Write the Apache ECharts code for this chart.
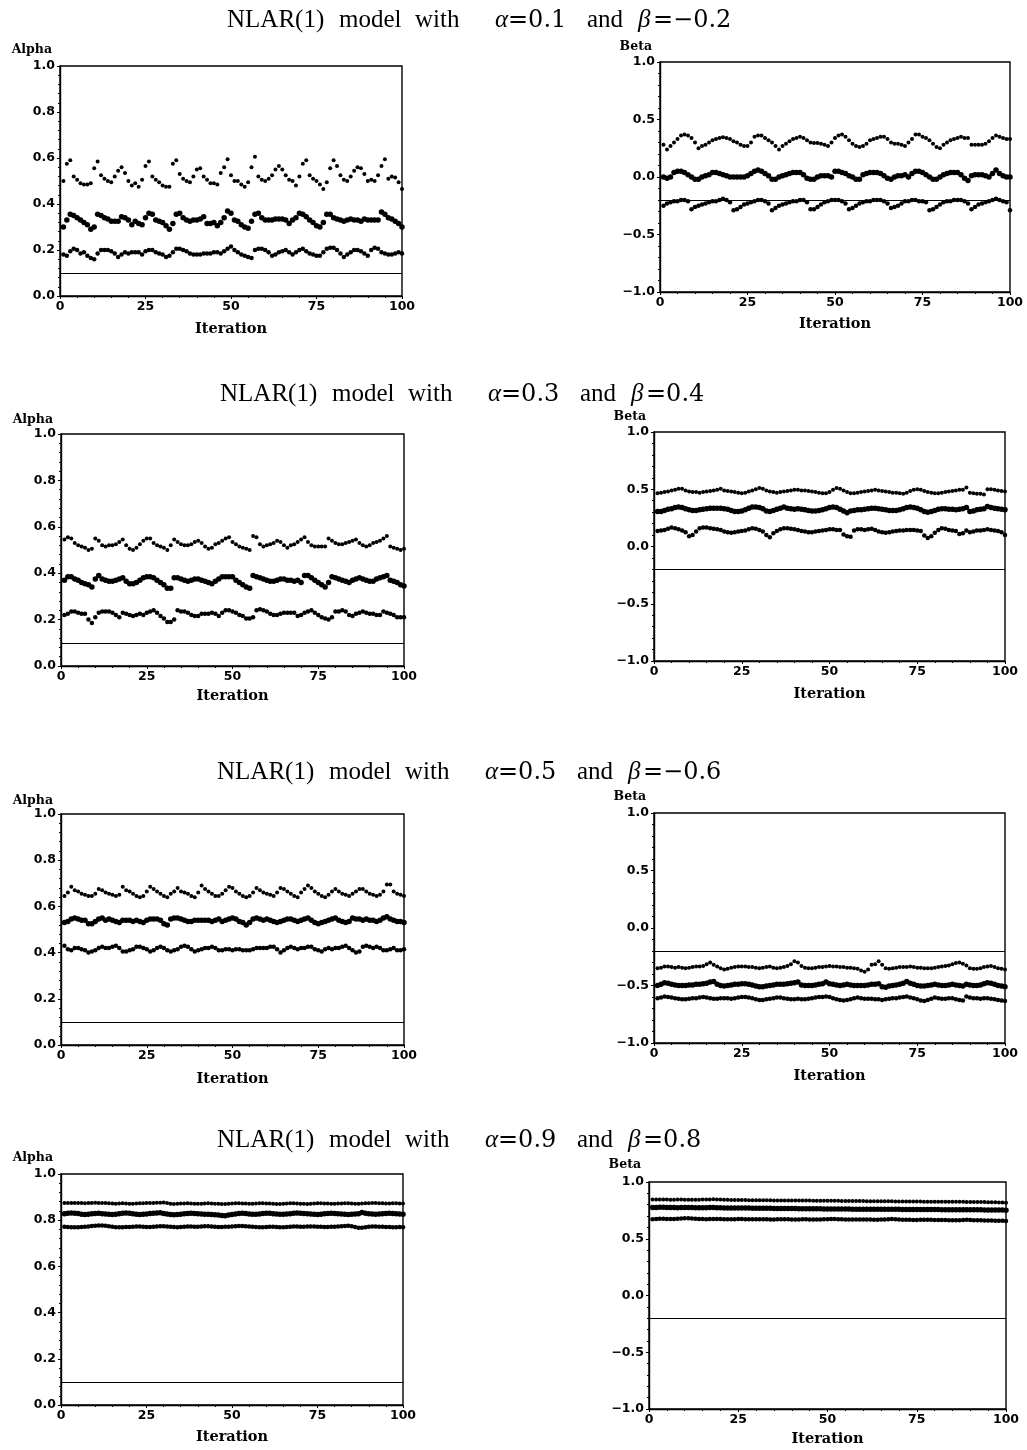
<!DOCTYPE html>
<html><head><meta charset="utf-8">
<script src="https://cdn.jsdelivr.net/npm/echarts@6/dist/echarts.min.js"></script>
<style>html,body{margin:0;padding:0;background:#fff}#c{width:1027px;height:1450px}</style>
</head><body><div id="c"></div>
<script>
// ---------- DATA ----------
const alphaTicks = [0, 0.2, 0.4, 0.6, 0.8, 1.0];
const betaTicks = [-1.0, -0.5, 0.0, 0.5, 1.0];
const iterTicks = [0, 25, 50, 75, 100];
const trueAlphaLine = 0.1;
const trueBetaLine = -0.2;
const rowTitles = [
  {alpha: '0.1', beta: '\u22120.2'},
  {alpha: '0.3', beta: '0.4'},
  {alpha: '0.5', beta: '\u22120.6'},
  {alpha: '0.9', beta: '0.8'}
];

// Row 1 (alpha=0.1, beta=-0.2)
const a1Upper = [
0.50,0.575,0.59,0.52,0.505,0.49,0.485,0.485,0.49,0.555,
0.585,0.525,0.51,0.50,0.495,0.52,0.545,0.56,0.535,0.50,
0.48,0.49,0.475,0.505,0.565,0.585,0.52,0.505,0.495,0.48,
0.475,0.475,0.575,0.59,0.53,0.51,0.50,0.495,0.52,0.55,
0.555,0.52,0.505,0.49,0.49,0.485,0.535,0.56,0.595,0.525,
0.50,0.50,0.485,0.475,0.495,0.56,0.605,0.52,0.505,0.50,
0.51,0.525,0.55,0.565,0.55,0.525,0.505,0.50,0.48,0.52,
0.575,0.59,0.525,0.51,0.50,0.485,0.465,0.495,0.555,0.59,
0.565,0.525,0.505,0.50,0.52,0.545,0.56,0.555,0.53,0.50,
0.505,0.50,0.525,0.565,0.595,0.51,0.52,0.515,0.495,0.465];
const a1Mid = [
0.30,0.33,0.355,0.35,0.34,0.33,0.32,0.31,0.29,0.30,
0.355,0.35,0.34,0.335,0.325,0.325,0.325,0.345,0.34,0.33,
0.31,0.325,0.315,0.31,0.34,0.36,0.355,0.33,0.325,0.32,
0.305,0.29,0.315,0.355,0.36,0.34,0.33,0.325,0.33,0.33,
0.335,0.345,0.315,0.315,0.32,0.305,0.32,0.34,0.37,0.36,
0.33,0.325,0.31,0.30,0.295,0.325,0.355,0.36,0.34,0.33,
0.33,0.33,0.335,0.335,0.335,0.33,0.315,0.33,0.34,0.36,
0.355,0.345,0.33,0.32,0.305,0.30,0.32,0.355,0.355,0.34,
0.335,0.33,0.325,0.33,0.335,0.33,0.33,0.325,0.335,0.33,
0.33,0.33,0.33,0.365,0.355,0.34,0.335,0.325,0.315,0.30];
const a1Lower = [
0.18,0.175,0.195,0.205,0.20,0.185,0.19,0.175,0.165,0.16,
0.185,0.20,0.20,0.20,0.195,0.185,0.17,0.18,0.19,0.185,
0.19,0.19,0.19,0.18,0.195,0.20,0.20,0.19,0.185,0.18,
0.17,0.175,0.19,0.205,0.205,0.20,0.195,0.185,0.18,0.18,
0.18,0.185,0.185,0.185,0.19,0.19,0.185,0.195,0.205,0.215,
0.20,0.19,0.18,0.175,0.17,0.165,0.20,0.205,0.205,0.20,
0.19,0.175,0.18,0.19,0.195,0.20,0.19,0.18,0.19,0.20,
0.205,0.195,0.185,0.18,0.175,0.175,0.19,0.205,0.21,0.21,
0.20,0.185,0.17,0.18,0.19,0.20,0.20,0.195,0.185,0.175,
0.20,0.21,0.205,0.19,0.185,0.18,0.18,0.185,0.19,0.185];
const b1Upper = [
0.28,0.24,0.27,0.30,0.33,0.36,0.37,0.36,0.34,0.30,
0.25,0.27,0.28,0.30,0.32,0.33,0.34,0.345,0.34,0.33,
0.31,0.30,0.28,0.27,0.27,0.30,0.35,0.36,0.36,0.34,
0.32,0.30,0.27,0.24,0.27,0.29,0.31,0.33,0.34,0.35,
0.34,0.32,0.30,0.295,0.295,0.29,0.28,0.27,0.30,0.34,
0.36,0.37,0.35,0.32,0.29,0.27,0.26,0.27,0.29,0.32,
0.33,0.34,0.35,0.35,0.33,0.30,0.29,0.29,0.28,0.27,
0.30,0.33,0.37,0.37,0.35,0.34,0.32,0.29,0.26,0.25,
0.28,0.30,0.32,0.33,0.34,0.35,0.34,0.34,0.28,0.28,
0.28,0.28,0.29,0.31,0.34,0.36,0.35,0.34,0.33,0.33];
const b1Mid = [
0.0,-0.01,0.0,0.04,0.05,0.05,0.04,0.02,0.0,-0.02,
-0.02,0.0,0.01,0.02,0.04,0.04,0.03,0.02,0.01,0.0,
0.0,0.0,0.0,0.0,0.01,0.03,0.05,0.06,0.05,0.03,
0.01,-0.02,-0.02,0.0,0.01,0.02,0.03,0.04,0.04,0.04,
0.02,-0.01,-0.02,-0.02,0.0,0.01,0.01,0.01,0.0,0.05,
0.05,0.04,0.03,0.01,0.0,-0.02,-0.02,0.02,0.03,0.04,
0.04,0.04,0.03,0.01,-0.01,-0.02,0.0,0.01,0.01,0.02,
0.0,0.03,0.05,0.05,0.04,0.02,0.0,-0.02,-0.02,0.0,
0.02,0.03,0.04,0.04,0.04,0.02,-0.01,-0.03,0.01,0.02,
0.02,0.02,0.01,0.0,0.03,0.06,0.03,0.01,0.0,0.0];
const b1Lower = [
-0.25,-0.23,-0.22,-0.21,-0.21,-0.20,-0.20,-0.21,-0.28,-0.26,
-0.25,-0.24,-0.23,-0.22,-0.21,-0.21,-0.20,-0.19,-0.20,-0.22,
-0.29,-0.28,-0.26,-0.24,-0.23,-0.22,-0.21,-0.20,-0.20,-0.21,
-0.23,-0.29,-0.27,-0.25,-0.24,-0.23,-0.22,-0.21,-0.21,-0.20,
-0.20,-0.22,-0.28,-0.28,-0.26,-0.24,-0.22,-0.21,-0.20,-0.20,
-0.20,-0.21,-0.23,-0.28,-0.27,-0.25,-0.23,-0.22,-0.21,-0.21,
-0.20,-0.20,-0.20,-0.21,-0.23,-0.27,-0.26,-0.25,-0.23,-0.21,
-0.21,-0.20,-0.20,-0.21,-0.21,-0.22,-0.29,-0.28,-0.26,-0.24,
-0.22,-0.21,-0.21,-0.20,-0.20,-0.20,-0.21,-0.23,-0.28,-0.26,
-0.24,-0.23,-0.22,-0.21,-0.20,-0.19,-0.20,-0.21,-0.22,-0.29];

// Row 2 (alpha=0.3, beta=0.4)
const a2Upper = [
0.545,0.555,0.55,0.53,0.52,0.515,0.51,0.50,0.505,0.55,
0.54,0.52,0.515,0.52,0.52,0.525,0.535,0.545,0.52,0.505,
0.50,0.51,0.525,0.54,0.55,0.55,0.53,0.52,0.515,0.51,
0.50,0.52,0.545,0.535,0.525,0.52,0.52,0.525,0.535,0.54,
0.53,0.515,0.505,0.51,0.525,0.53,0.54,0.55,0.555,0.535,
0.525,0.515,0.51,0.505,0.50,0.56,0.555,0.525,0.515,0.52,
0.525,0.53,0.54,0.535,0.52,0.51,0.52,0.525,0.535,0.545,
0.555,0.535,0.52,0.515,0.515,0.515,0.515,0.55,0.54,0.53,
0.525,0.525,0.53,0.535,0.54,0.545,0.53,0.52,0.515,0.52,
0.53,0.535,0.54,0.55,0.56,0.515,0.51,0.505,0.50,0.505];
const a2Mid = [
0.37,0.385,0.385,0.375,0.37,0.36,0.355,0.35,0.34,0.375,
0.39,0.375,0.37,0.365,0.365,0.37,0.375,0.38,0.365,0.355,
0.355,0.36,0.37,0.38,0.385,0.385,0.38,0.37,0.36,0.35,
0.335,0.335,0.38,0.38,0.375,0.37,0.365,0.37,0.375,0.375,
0.37,0.365,0.36,0.355,0.365,0.375,0.385,0.385,0.385,0.385,
0.37,0.36,0.35,0.34,0.335,0.39,0.385,0.38,0.375,0.37,
0.365,0.365,0.37,0.375,0.375,0.37,0.37,0.365,0.37,0.36,
0.39,0.39,0.38,0.37,0.36,0.35,0.34,0.36,0.385,0.38,
0.375,0.37,0.365,0.36,0.37,0.375,0.38,0.375,0.37,0.365,
0.365,0.375,0.38,0.385,0.39,0.37,0.365,0.36,0.35,0.345];
const a2Lower = [
0.22,0.225,0.235,0.235,0.23,0.225,0.225,0.20,0.185,0.21,
0.23,0.235,0.235,0.235,0.23,0.22,0.21,0.23,0.225,0.22,
0.215,0.22,0.225,0.22,0.23,0.235,0.24,0.23,0.215,0.205,
0.19,0.19,0.20,0.24,0.235,0.235,0.23,0.22,0.215,0.215,
0.225,0.225,0.225,0.23,0.225,0.215,0.23,0.24,0.24,0.235,
0.23,0.22,0.215,0.205,0.205,0.21,0.24,0.245,0.24,0.235,
0.225,0.22,0.22,0.225,0.23,0.23,0.23,0.23,0.215,0.22,
0.23,0.235,0.24,0.23,0.22,0.21,0.205,0.20,0.21,0.235,
0.235,0.24,0.235,0.22,0.215,0.225,0.23,0.235,0.23,0.225,
0.225,0.22,0.22,0.235,0.23,0.225,0.22,0.21,0.21,0.21];
const b2Upper = [
0.465,0.47,0.475,0.48,0.49,0.495,0.505,0.505,0.49,0.48,
0.475,0.475,0.47,0.475,0.48,0.485,0.49,0.495,0.505,0.49,
0.485,0.48,0.475,0.47,0.465,0.47,0.48,0.49,0.50,0.51,
0.505,0.49,0.48,0.475,0.47,0.475,0.48,0.485,0.49,0.495,
0.495,0.49,0.49,0.485,0.48,0.475,0.47,0.465,0.465,0.475,
0.495,0.51,0.505,0.49,0.475,0.465,0.465,0.47,0.475,0.48,
0.485,0.49,0.495,0.49,0.485,0.48,0.475,0.47,0.47,0.465,
0.46,0.47,0.485,0.495,0.50,0.495,0.485,0.475,0.47,0.465,
0.465,0.47,0.475,0.48,0.485,0.49,0.495,0.495,0.515,0.47,
0.465,0.46,0.46,0.455,0.50,0.50,0.495,0.49,0.485,0.48];
const b2Mid = [
0.305,0.305,0.315,0.325,0.33,0.34,0.345,0.34,0.33,0.32,
0.315,0.315,0.32,0.325,0.33,0.335,0.335,0.335,0.335,0.33,
0.325,0.315,0.305,0.305,0.31,0.32,0.335,0.345,0.345,0.34,
0.33,0.31,0.305,0.315,0.325,0.335,0.345,0.335,0.33,0.325,
0.33,0.325,0.32,0.315,0.31,0.31,0.315,0.32,0.33,0.34,
0.345,0.34,0.325,0.31,0.295,0.31,0.315,0.32,0.32,0.325,
0.33,0.335,0.335,0.33,0.325,0.32,0.315,0.315,0.315,0.32,
0.33,0.34,0.345,0.34,0.335,0.32,0.305,0.30,0.305,0.315,
0.325,0.33,0.33,0.325,0.325,0.32,0.325,0.33,0.34,0.305,
0.31,0.32,0.325,0.33,0.35,0.34,0.335,0.33,0.325,0.32];
const b2Lower = [
0.135,0.14,0.145,0.155,0.165,0.16,0.15,0.14,0.125,0.09,
0.10,0.13,0.16,0.165,0.165,0.16,0.155,0.15,0.145,0.13,
0.125,0.12,0.125,0.13,0.135,0.14,0.15,0.16,0.155,0.145,
0.13,0.10,0.08,0.115,0.135,0.15,0.16,0.16,0.155,0.15,
0.145,0.135,0.13,0.125,0.125,0.13,0.135,0.14,0.145,0.15,
0.15,0.145,0.145,0.105,0.09,0.085,0.14,0.15,0.15,0.145,
0.15,0.155,0.145,0.13,0.125,0.12,0.125,0.13,0.135,0.14,
0.14,0.145,0.145,0.145,0.14,0.135,0.095,0.075,0.09,0.12,
0.145,0.16,0.155,0.145,0.14,0.135,0.11,0.115,0.14,0.125,
0.13,0.14,0.14,0.145,0.15,0.145,0.14,0.135,0.125,0.10];

// Row 3 (alpha=0.5, beta=-0.6)
const a3Upper = [
0.645,0.66,0.685,0.67,0.665,0.655,0.65,0.645,0.645,0.655,
0.675,0.67,0.66,0.655,0.65,0.645,0.65,0.685,0.67,0.665,
0.655,0.645,0.64,0.645,0.665,0.685,0.675,0.665,0.655,0.645,
0.64,0.655,0.665,0.68,0.665,0.66,0.655,0.645,0.64,0.66,
0.69,0.675,0.665,0.655,0.645,0.645,0.655,0.67,0.685,0.68,
0.665,0.655,0.645,0.64,0.645,0.66,0.68,0.67,0.66,0.655,
0.65,0.645,0.66,0.68,0.675,0.665,0.655,0.645,0.64,0.66,
0.675,0.69,0.68,0.665,0.655,0.645,0.64,0.65,0.665,0.675,
0.665,0.655,0.65,0.645,0.655,0.665,0.675,0.675,0.665,0.655,
0.65,0.645,0.65,0.665,0.695,0.695,0.665,0.655,0.65,0.645];
const a3Mid = [
0.53,0.535,0.545,0.55,0.545,0.54,0.54,0.525,0.525,0.535,
0.545,0.55,0.54,0.545,0.54,0.535,0.53,0.54,0.54,0.54,
0.535,0.54,0.535,0.53,0.54,0.545,0.545,0.545,0.54,0.525,
0.52,0.545,0.55,0.55,0.545,0.54,0.535,0.535,0.54,0.54,
0.54,0.54,0.54,0.535,0.54,0.545,0.535,0.54,0.545,0.55,
0.545,0.535,0.53,0.52,0.53,0.545,0.55,0.545,0.54,0.545,
0.54,0.535,0.53,0.535,0.54,0.545,0.545,0.54,0.535,0.54,
0.545,0.55,0.54,0.53,0.525,0.53,0.535,0.54,0.545,0.55,
0.54,0.535,0.53,0.535,0.55,0.545,0.545,0.54,0.545,0.54,
0.54,0.535,0.54,0.55,0.555,0.545,0.54,0.535,0.535,0.53];
const a3Lower = [
0.43,0.415,0.41,0.42,0.42,0.415,0.41,0.40,0.405,0.41,
0.42,0.425,0.42,0.42,0.425,0.43,0.42,0.405,0.405,0.41,
0.415,0.425,0.425,0.42,0.415,0.405,0.41,0.42,0.425,0.42,
0.41,0.405,0.41,0.415,0.425,0.43,0.425,0.415,0.405,0.41,
0.415,0.42,0.42,0.425,0.42,0.41,0.41,0.415,0.415,0.41,
0.415,0.415,0.41,0.41,0.41,0.415,0.42,0.42,0.42,0.42,
0.425,0.425,0.415,0.40,0.41,0.42,0.425,0.42,0.415,0.42,
0.42,0.425,0.425,0.415,0.41,0.405,0.415,0.42,0.415,0.42,
0.42,0.425,0.43,0.42,0.41,0.40,0.405,0.425,0.43,0.425,
0.42,0.425,0.42,0.41,0.41,0.415,0.42,0.41,0.41,0.415];
const b3Upper = [
-0.35,-0.345,-0.335,-0.335,-0.34,-0.345,-0.34,-0.345,-0.35,-0.345,
-0.34,-0.335,-0.335,-0.33,-0.315,-0.30,-0.32,-0.335,-0.35,-0.36,
-0.355,-0.345,-0.34,-0.335,-0.335,-0.335,-0.34,-0.34,-0.345,-0.35,
-0.345,-0.34,-0.335,-0.345,-0.35,-0.345,-0.34,-0.33,-0.315,-0.29,
-0.30,-0.33,-0.345,-0.35,-0.35,-0.345,-0.34,-0.34,-0.335,-0.33,
-0.335,-0.335,-0.34,-0.34,-0.345,-0.345,-0.35,-0.355,-0.37,-0.38,
-0.36,-0.32,-0.315,-0.29,-0.32,-0.35,-0.355,-0.35,-0.345,-0.34,
-0.34,-0.34,-0.335,-0.34,-0.345,-0.345,-0.35,-0.35,-0.35,-0.345,
-0.34,-0.335,-0.33,-0.325,-0.315,-0.305,-0.30,-0.31,-0.325,-0.35,
-0.355,-0.355,-0.35,-0.34,-0.335,-0.33,-0.34,-0.35,-0.355,-0.36];
const b3Mid = [
-0.50,-0.49,-0.475,-0.48,-0.49,-0.495,-0.50,-0.50,-0.50,-0.495,
-0.495,-0.49,-0.49,-0.485,-0.48,-0.47,-0.465,-0.49,-0.50,-0.505,
-0.50,-0.495,-0.49,-0.49,-0.485,-0.485,-0.49,-0.495,-0.505,-0.51,
-0.51,-0.505,-0.50,-0.495,-0.49,-0.49,-0.49,-0.485,-0.48,-0.475,
-0.47,-0.495,-0.50,-0.50,-0.50,-0.495,-0.49,-0.485,-0.47,-0.485,
-0.49,-0.495,-0.50,-0.495,-0.49,-0.495,-0.50,-0.50,-0.50,-0.50,
-0.495,-0.49,-0.49,-0.485,-0.51,-0.515,-0.505,-0.50,-0.495,-0.49,
-0.48,-0.465,-0.48,-0.49,-0.50,-0.505,-0.505,-0.50,-0.495,-0.49,
-0.495,-0.50,-0.50,-0.495,-0.49,-0.495,-0.50,-0.505,-0.49,-0.495,
-0.50,-0.50,-0.495,-0.485,-0.475,-0.48,-0.49,-0.50,-0.505,-0.51];
const b3Lower = [
-0.61,-0.605,-0.595,-0.60,-0.605,-0.61,-0.615,-0.62,-0.62,-0.615,
-0.61,-0.61,-0.605,-0.60,-0.605,-0.61,-0.615,-0.615,-0.61,-0.61,
-0.61,-0.615,-0.61,-0.605,-0.60,-0.60,-0.605,-0.61,-0.62,-0.625,
-0.625,-0.62,-0.615,-0.61,-0.605,-0.605,-0.61,-0.615,-0.62,-0.62,
-0.615,-0.62,-0.62,-0.615,-0.61,-0.605,-0.60,-0.60,-0.595,-0.60,
-0.61,-0.62,-0.625,-0.63,-0.625,-0.62,-0.61,-0.605,-0.61,-0.615,
-0.615,-0.615,-0.62,-0.62,-0.625,-0.62,-0.615,-0.61,-0.61,-0.605,
-0.60,-0.595,-0.605,-0.61,-0.62,-0.63,-0.635,-0.625,-0.615,-0.605,
-0.61,-0.615,-0.615,-0.61,-0.61,-0.62,-0.625,-0.63,-0.595,-0.605,
-0.61,-0.61,-0.615,-0.61,-0.61,-0.615,-0.62,-0.625,-0.63,-0.635];

// Row 4 (alpha=0.9, beta=0.8)
const a4Upper = [
0.875,0.875,0.874,0.874,0.875,0.874,0.873,0.874,0.875,0.876,
0.875,0.875,0.874,0.873,0.872,0.871,0.872,0.873,0.872,0.871,
0.871,0.872,0.873,0.873,0.874,0.874,0.875,0.876,0.876,0.877,
0.874,0.871,0.870,0.871,0.872,0.872,0.873,0.872,0.871,0.871,
0.871,0.872,0.873,0.872,0.871,0.871,0.870,0.870,0.871,0.872,
0.873,0.873,0.872,0.872,0.871,0.871,0.872,0.873,0.873,0.872,
0.872,0.871,0.870,0.870,0.871,0.872,0.873,0.873,0.872,0.871,
0.871,0.870,0.871,0.872,0.873,0.873,0.872,0.872,0.871,0.871,
0.872,0.872,0.873,0.873,0.872,0.871,0.871,0.872,0.873,0.873,
0.874,0.874,0.873,0.873,0.872,0.872,0.873,0.873,0.872,0.872];
const a4Mid = [
0.828,0.830,0.831,0.830,0.829,0.826,0.825,0.826,0.828,0.829,
0.830,0.828,0.827,0.826,0.825,0.826,0.828,0.830,0.831,0.830,
0.828,0.826,0.825,0.826,0.827,0.829,0.830,0.831,0.832,0.829,
0.827,0.825,0.824,0.825,0.826,0.828,0.829,0.830,0.829,0.828,
0.827,0.826,0.826,0.825,0.824,0.822,0.820,0.819,0.822,0.825,
0.827,0.829,0.830,0.829,0.827,0.826,0.826,0.827,0.829,0.830,
0.830,0.828,0.827,0.826,0.826,0.827,0.828,0.830,0.831,0.830,
0.829,0.828,0.827,0.826,0.825,0.826,0.828,0.829,0.830,0.829,
0.828,0.827,0.826,0.825,0.826,0.827,0.828,0.833,0.830,0.828,
0.827,0.826,0.827,0.828,0.829,0.830,0.829,0.828,0.827,0.826];
const a4Lower = [
0.772,0.771,0.770,0.769,0.770,0.771,0.772,0.773,0.775,0.776,
0.777,0.777,0.776,0.774,0.772,0.770,0.769,0.770,0.771,0.771,
0.772,0.773,0.773,0.772,0.771,0.771,0.772,0.773,0.774,0.774,
0.773,0.772,0.771,0.770,0.771,0.772,0.773,0.773,0.772,0.772,
0.773,0.774,0.774,0.773,0.772,0.771,0.771,0.772,0.772,0.773,
0.774,0.775,0.775,0.774,0.773,0.772,0.771,0.770,0.770,0.771,
0.772,0.772,0.771,0.770,0.770,0.771,0.772,0.773,0.773,0.772,
0.772,0.773,0.773,0.773,0.772,0.772,0.771,0.771,0.772,0.772,
0.773,0.774,0.775,0.776,0.774,0.771,0.767,0.767,0.770,0.772,
0.773,0.773,0.772,0.772,0.771,0.771,0.770,0.770,0.771,0.770];
const b4Upper = [
0.845,0.846,0.846,0.845,0.845,0.844,0.844,0.845,0.845,0.844,
0.844,0.843,0.843,0.844,0.845,0.846,0.846,0.847,0.846,0.845,
0.844,0.843,0.842,0.842,0.842,0.841,0.841,0.840,0.840,0.840,
0.840,0.839,0.839,0.839,0.838,0.838,0.838,0.838,0.837,0.837,
0.837,0.837,0.836,0.836,0.836,0.835,0.835,0.835,0.835,0.834,
0.834,0.834,0.834,0.833,0.833,0.833,0.832,0.832,0.832,0.832,
0.831,0.831,0.831,0.831,0.830,0.830,0.830,0.830,0.829,0.829,
0.829,0.829,0.828,0.828,0.828,0.828,0.827,0.827,0.827,0.827,
0.826,0.826,0.826,0.826,0.825,0.825,0.825,0.825,0.824,0.824,
0.824,0.823,0.823,0.823,0.822,0.822,0.821,0.820,0.819,0.818];
const b4Mid = [
0.775,0.776,0.777,0.777,0.776,0.775,0.775,0.774,0.775,0.776,
0.776,0.775,0.774,0.774,0.773,0.774,0.775,0.775,0.774,0.773,
0.772,0.772,0.771,0.771,0.770,0.771,0.771,0.770,0.769,0.769,
0.769,0.768,0.768,0.768,0.767,0.767,0.767,0.766,0.766,0.766,
0.766,0.765,0.765,0.765,0.764,0.764,0.764,0.764,0.763,0.763,
0.763,0.763,0.762,0.762,0.762,0.762,0.761,0.761,0.761,0.761,
0.760,0.760,0.760,0.760,0.760,0.759,0.759,0.759,0.759,0.759,
0.758,0.758,0.758,0.758,0.758,0.757,0.757,0.757,0.757,0.757,
0.757,0.756,0.756,0.756,0.756,0.756,0.756,0.755,0.755,0.755,
0.755,0.755,0.755,0.754,0.754,0.754,0.754,0.753,0.753,0.752];
const b4Lower = [
0.672,0.675,0.677,0.676,0.674,0.673,0.674,0.676,0.678,0.680,
0.681,0.679,0.676,0.674,0.673,0.672,0.673,0.674,0.674,0.673,
0.672,0.671,0.671,0.672,0.673,0.673,0.672,0.671,0.671,0.671,
0.672,0.672,0.671,0.670,0.670,0.671,0.672,0.672,0.671,0.670,
0.670,0.670,0.671,0.671,0.670,0.669,0.669,0.670,0.671,0.672,
0.673,0.673,0.672,0.671,0.670,0.669,0.669,0.670,0.670,0.670,
0.670,0.669,0.668,0.668,0.669,0.670,0.672,0.673,0.672,0.670,
0.668,0.667,0.667,0.666,0.666,0.667,0.668,0.668,0.667,0.666,
0.666,0.665,0.665,0.664,0.663,0.663,0.664,0.666,0.667,0.665,
0.663,0.662,0.662,0.661,0.660,0.660,0.659,0.659,0.658,0.657];

// ---------- LAYOUT ----------
const panels = [
  {kind:'alpha', bands:[a1Upper,a1Mid,a1Lower], g:{left:60, top:66, width:342, height:230}, nameGap:16, xNameGap:26},
  {kind:'beta',  bands:[b1Upper,b1Mid,b1Lower], g:{left:660,top:62, width:350, height:230}, nameGap:15, xNameGap:25},
  {kind:'alpha', bands:[a2Upper,a2Mid,a2Lower], g:{left:61, top:434, width:343, height:232}, nameGap:14, xNameGap:23},
  {kind:'beta',  bands:[b2Upper,b2Mid,b2Lower], g:{left:654,top:432, width:351, height:229}, nameGap:15, xNameGap:26},
  {kind:'alpha', bands:[a3Upper,a3Mid,a3Lower], g:{left:61, top:814, width:343, height:231}, nameGap:12, xNameGap:27},
  {kind:'beta',  bands:[b3Upper,b3Mid,b3Lower], g:{left:654,top:813, width:351, height:230}, nameGap:16, xNameGap:26},
  {kind:'alpha', bands:[a4Upper,a4Mid,a4Lower], g:{left:61, top:1174,width:342, height:231}, nameGap:16, xNameGap:25},
  {kind:'beta',  bands:[b4Upper,b4Mid,b4Lower], g:{left:649,top:1182,width:357, height:227}, nameGap:17, xNameGap:23}
];
const titlePos = [{left:222, top:3}, {left:215, top:377}, {left:212, top:755}, {left:212, top:1123}];
const bandSizes = [4, 5.5, 4.5];

const iterations = [];
for (let i = 1; i <= 100; i++) iterations.push(i);

const tickFont = {fontFamily:'DejaVu Sans', fontWeight:'bold', fontSize:12.5, color:'#000'};
const fmt = v => (Math.abs(v) < 1e-9 ? '0.0' : v.toFixed(1)).replace('-', '\u2212');

const grid = [], xAxis = [], yAxis = [], series = [];
panels.forEach((p, k) => {
  grid.push(Object.assign({show:true, borderColor:'#000', borderWidth:1.4, backgroundColor:'#fff', containLabel:false}, p.g));
  xAxis.push({
    type:'value', gridIndex:k, min:iterTicks[0], max:iterTicks[iterTicks.length-1],
    interval:iterTicks[1]-iterTicks[0],
    name:'Iteration', nameLocation:'middle', nameGap:p.xNameGap,
    nameTextStyle:{fontFamily:'DejaVu Serif', fontWeight:'bold', fontSize:14.5, color:'#000'},
    axisLine:{show:true, onZero:false, lineStyle:{color:'#000', width:1.4}},
    axisTick:{show:true, length:3, lineStyle:{color:'#000'}},
    minorTick:{show:true, splitNumber:5, length:2, lineStyle:{color:'#000'}},
    axisLabel:Object.assign({margin:4}, tickFont),
    splitLine:{show:false}
  });
  const ticks = p.kind === 'alpha' ? alphaTicks : betaTicks;
  yAxis.push({
    type:'value', gridIndex:k, min:ticks[0], max:ticks[ticks.length-1],
    interval:ticks[1]-ticks[0],
    name: p.kind === 'alpha' ? 'Alpha' : 'Beta', nameLocation:'end', nameGap:p.nameGap,
    nameTextStyle:{fontFamily:'DejaVu Serif', fontWeight:'bold', fontSize:12.5, color:'#000',
                   align:'right', verticalAlign:'middle', padding:[0,8,0,0]},
    axisLine:{show:true, lineStyle:{color:'#000', width:1.4}},
    axisTick:{show:true, length:3, lineStyle:{color:'#000'}},
    minorTick:{show:true, splitNumber:5, length:2, lineStyle:{color:'#000'}},
    axisLabel:Object.assign({margin:5, formatter:fmt}, tickFont),
    splitLine:{show:false}
  });
  p.bands.forEach((vals, j) => {
    const s = {
      type:'scatter', xAxisIndex:k, yAxisIndex:k, silent:true,
      symbol:'circle', symbolSize:bandSizes[j],
      itemStyle:{color:'#000', opacity:1},
      data: vals.map((v, i) => [iterations[i], v])
    };
    if (j === 0) {
      s.markLine = {
        silent:true, symbol:'none', label:{show:false}, animation:false,
        lineStyle:{color:'#000', width:1.2, type:'solid'},
        data:[{yAxis: p.kind === 'alpha' ? trueAlphaLine : trueBetaLine}]
      };
    }
    series.push(s);
  });
});

const serif = {fontFamily:'Liberation Serif', fontWeight:'normal', fontSize:25, color:'#000'};
const title = rowTitles.map((r, i) => ({
  left: titlePos[i].left, top: titlePos[i].top,
  text: '{w1|NLAR(1)}{w2|model}{w3|with}{ga|\u03b1}{na|=' + r.alpha + '}{w4|and}{gb|\u03b2}{nb|=' + r.beta + '}',
  textStyle:{
    fontWeight:'normal',
    rich:{
      w1:Object.assign({width:112}, serif),
      w2:Object.assign({width:76}, serif),
      w3:Object.assign({width:80}, serif),
      w4:Object.assign({width:51}, serif),
      ga:Object.assign({}, serif, {fontStyle:'italic', width:13}),
      gb:Object.assign({}, serif, {fontStyle:'italic', width:15}),
      na:{fontFamily:'DejaVu Serif', fontWeight:'normal', fontSize:24, color:'#000', width:79},
      nb:{fontFamily:'DejaVu Serif', fontWeight:'normal', fontSize:24, color:'#000'}
    }
  }
}));

const chart = echarts.init(document.getElementById('c'), null, {renderer:'canvas'});
chart.setOption({animation:false, backgroundColor:'#fff', title, grid, xAxis, yAxis, series});
</script>
</body></html>
